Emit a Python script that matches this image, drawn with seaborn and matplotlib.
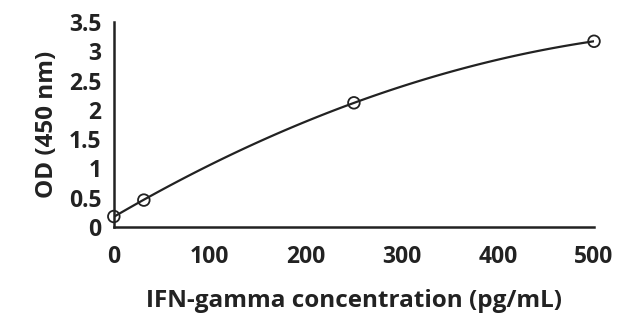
import matplotlib
matplotlib.use("Agg")
import matplotlib.pyplot as plt
import seaborn as sns
import pandas as pd

# standard curve values
concentration = [0, 31.25, 250, 500]
od_450 = [0.18, 0.46, 2.12, 3.17]
y_ticks = [0, 0.5, 1, 1.5, 2, 2.5, 3, 3.5]
y_tick_labels = ["0", "0.5", "1", "1.5", "2", "2.5", "3", "3.5"]
x_ticks = [0, 100, 200, 300, 400, 500]

df = pd.DataFrame({"conc": concentration, "od": od_450})

sns.set_style("white")
plt.rcParams['font.family'] = ['Open Sans', 'DejaVu Sans']

fig = plt.figure(figsize=(6.22, 3.18), dpi=100)
ax = fig.add_axes([0.183, 0.286, 0.772, 0.645])

# quadratic fit line, like the excel trendline
sns.regplot(data=df, x="conc", y="od", order=2, ci=None, ax=ax, scatter=False,
            line_kws={"color": "#222222", "lw": 1.6}, truncate=True)
sns.scatterplot(data=df, x="conc", y="od", ax=ax, marker="o", s=70,
                facecolor="none", edgecolor="#222222", linewidth=1.3, zorder=5,
                clip_on=False)
for c in ax.collections:
    c.set_clip_on(False)

ax.set_xlim(0, 500)
ax.set_ylim(0, 3.5)
ax.set_xticks(x_ticks)
ax.set_yticks(y_ticks)
ax.set_yticklabels(y_tick_labels)
sns.despine(ax=ax)
for s in ["left", "bottom"]:
    ax.spines[s].set_linewidth(1.8)
    ax.spines[s].set_color("#222222")
ax.tick_params(axis="both", direction="out", length=6, width=1.8, color="#222222",
               labelsize=16.5, labelcolor="#222222", pad=7)
ax.tick_params(axis="y", pad=3)
for lab in ax.get_xticklabels() + ax.get_yticklabels():
    lab.set_fontweight("bold")

ax.set_xlabel("IFN-gamma concentration (pg/mL)", fontsize=17.5, fontweight="bold",
              color="#222222", labelpad=14)
ax.set_ylabel("OD (450 nm)", fontsize=17.5, fontweight="bold", color="#222222",
              labelpad=7)

fig.savefig("out.png", dpi=100)
